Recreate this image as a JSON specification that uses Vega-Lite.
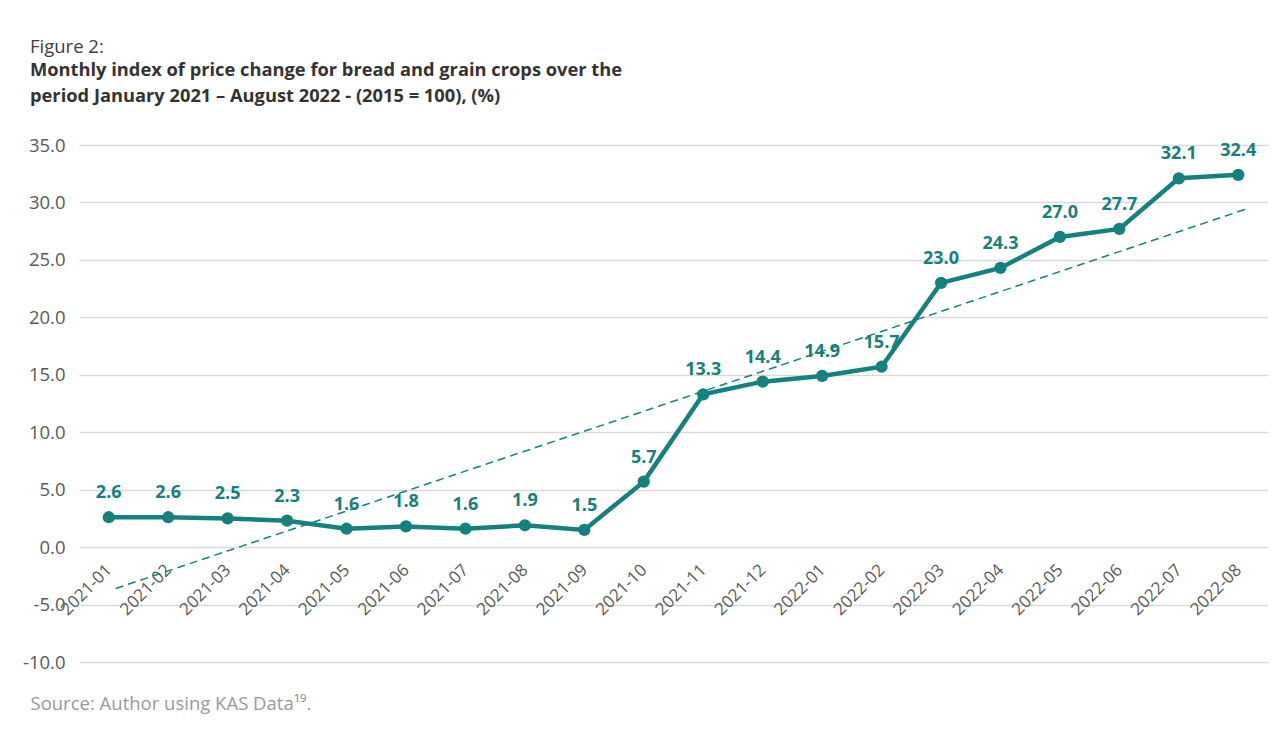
{
  "$schema": "https://vega.github.io/schema/vega-lite/v6.json",
  "width": 1189,
  "height": 517,
  "autosize": {"type": "none"},
  "padding": {"left": 79, "top": 145, "right": 11, "bottom": 69},
  "background": "white",
  "title": {
    "text": "Figure 2:",
    "subtitle": ["Monthly index of price change for bread and grain crops over the", "period January 2021 – August 2022 - (2015 = 100), (%)"],
    "anchor": "start",
    "frame": "group",
    "dx": -49,
    "offset": 31,
    "font": "Open Sans",
    "fontSize": 18.5,
    "fontWeight": "normal",
    "color": "#404040",
    "subtitleFont": "Open Sans",
    "subtitleFontSize": 18.3,
    "subtitleFontWeight": "bold",
    "subtitleColor": "#333333",
    "subtitleLineHeight": 26,
    "subtitlePadding": 5
  },
  "config": {
    "view": {"stroke": null},
    "font": "Open Sans"
  },
  "datasets": {
    "main": [
      {"month": "2021-01", "value": 2.6},
      {"month": "2021-02", "value": 2.6},
      {"month": "2021-03", "value": 2.5},
      {"month": "2021-04", "value": 2.3},
      {"month": "2021-05", "value": 1.6},
      {"month": "2021-06", "value": 1.8},
      {"month": "2021-07", "value": 1.6},
      {"month": "2021-08", "value": 1.9},
      {"month": "2021-09", "value": 1.5},
      {"month": "2021-10", "value": 5.7},
      {"month": "2021-11", "value": 13.3},
      {"month": "2021-12", "value": 14.4},
      {"month": "2022-01", "value": 14.9},
      {"month": "2022-02", "value": 15.7},
      {"month": "2022-03", "value": 23.0},
      {"month": "2022-04", "value": 24.3},
      {"month": "2022-05", "value": 27.0},
      {"month": "2022-06", "value": 27.7},
      {"month": "2022-07", "value": 32.1},
      {"month": "2022-08", "value": 32.4}
    ],
    "trend": [
      {"month": "2021-01", "trend": -3.6},
      {"month": "2022-08", "trend": 29.4}
    ]
  },
  "encoding": {
    "x": {
      "field": "month",
      "type": "ordinal",
      "sort": null,
      "scale": {"type": "point", "padding": 0.5},
      "axis": {
        "orient": "bottom",
        "offset": -95,
        "domain": false,
        "ticks": false,
        "grid": false,
        "labelAngle": -45,
        "labelAlign": "right",
        "labelBaseline": "middle",
        "labelPadding": 0,
        "labelFont": "Open Sans",
        "labelFontSize": 17,
        "labelColor": "#595959",
        "title": "Source: Author using KAS Data¹⁹.",
        "titleAnchor": "start",
        "titleAlign": "left",
        "titleAngle": 0,
        "titleBaseline": "alphabetic",
        "titleX": -49,
        "titleY": 142,
        "titleFont": "Open Sans",
        "titleFontSize": 18.5,
        "titleFontWeight": "normal",
        "titleColor": "#999999"
      }
    }
  },
  "layer": [
    {
      "data": {"name": "main"},
      "mark": {"type": "line", "color": "#15807e", "strokeWidth": 4.5},
      "encoding": {
        "y": {
          "field": "value",
          "type": "quantitative",
          "scale": {"domain": [-10, 35], "nice": false, "zero": false},
          "axis": {
            "values": [-10, -5, 0, 5, 10, 15, 20, 25, 30, 35],
            "labelExpr": "replace(format(datum.value, '.1f'), '−', '-')",
            "domain": false,
            "ticks": false,
            "grid": true,
            "gridColor": "#d9d9d9",
            "gridWidth": 1.5,
            "labelPadding": 14,
            "labelFont": "Open Sans",
            "labelFontSize": 18.5,
            "labelColor": "#595959",
            "title": null
          }
        }
      }
    },
    {
      "data": {"name": "trend"},
      "mark": {"type": "line", "color": "#15807e", "strokeWidth": 1.5, "strokeDash": [8, 5], "xOffset": 7},
      "encoding": {
        "y": {"field": "trend", "type": "quantitative"}
      }
    },
    {
      "data": {"name": "main"},
      "mark": {"type": "point", "filled": true, "opacity": 1, "color": "#15807e", "size": 150, "shape": "circle"},
      "encoding": {
        "y": {"field": "value", "type": "quantitative"}
      }
    },
    {
      "data": {"name": "main"},
      "mark": {"type": "text", "color": "#15807e", "font": "Open Sans", "fontWeight": "bold", "fontSize": 18, "baseline": "alphabetic", "dy": -19},
      "encoding": {
        "y": {"field": "value", "type": "quantitative"},
        "text": {"field": "value", "type": "quantitative", "format": ".1f"}
      }
    }
  ]
}
